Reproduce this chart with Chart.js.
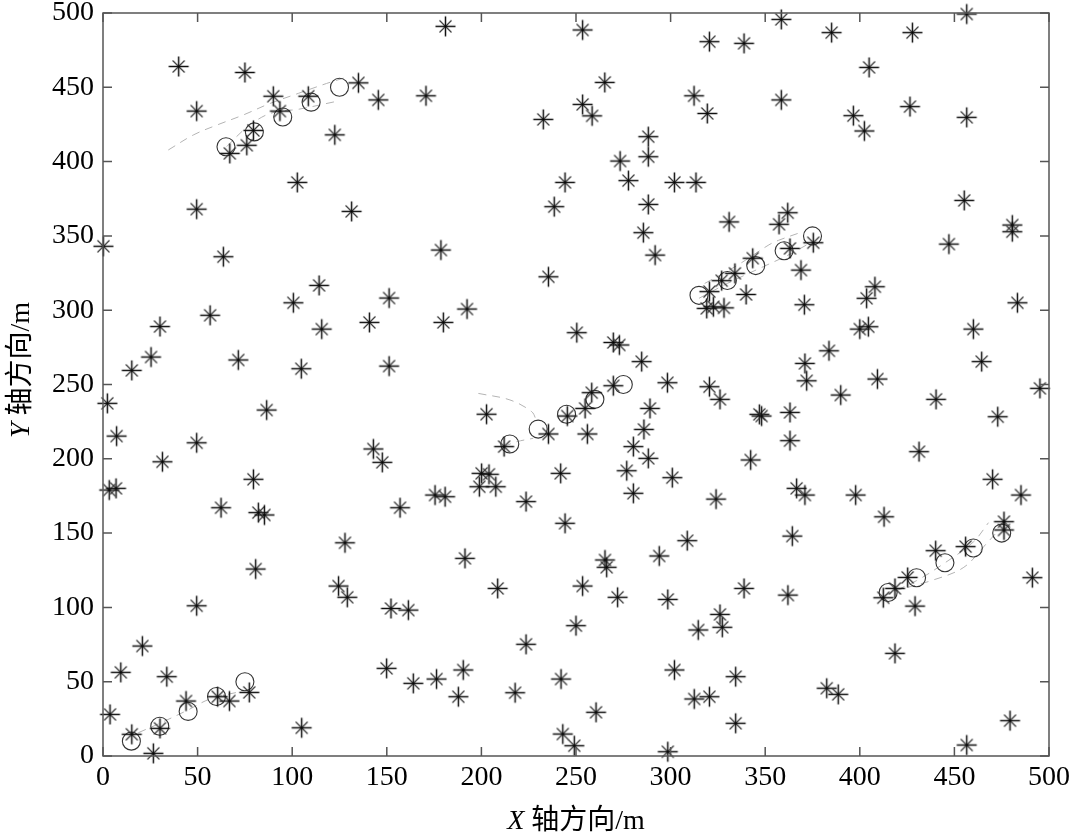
<!DOCTYPE html>
<html>
<head>
<meta charset="utf-8">
<script src="https://cdn.jsdelivr.net/npm/chart.js@4"></script>
<style>
  html, body { margin: 0; padding: 0; background: #fff; }
  #wrap { width: 1074px; height: 840px; position: relative; }
</style>
</head>
<body>
<div id="wrap"><canvas id="chart"></canvas></div>
<script>
// scattered measurements (asterisks)
const starX = [40, 75, 49.5, 90, 108.5, 93.5, 79.5, 76, 67, 122.5, 102.7, 49.5, 0.2, 63.6, 114.2, 56.6, 100.6, 30.1, 115.6, 25.4,
  15.2, 71.5, 104.8, 181, 135, 145.5, 170.7, 232.7, 244.2, 238.5, 131.4, 178.6, 235.4, 151.2, 140.8, 179.9, 192.4, 151.2, 358.5, 253.5,
  320.5, 338.8, 265.2, 312.4, 358.5, 253.5, 258.5, 319.4, 288.2, 288.2, 273.3, 277.7, 302, 313.4, 288.2, 285.6, 291.8, 330.9, 357.3, 361.9,
  363.1, 343.4, 368.9, 334, 327, 320.5, 339.9, 370.7, 319.1, 322.6, 328.2, 250.4, 269.7, 272.9, 284.7, 269.7, 298.3, 320.5, 371, 371.9,
  258.3, 456.5, 385.1, 427.8, 404.9, 396.6, 402.4, 426.5, 456.5, 455.2, 480.6, 480.6, 447.1, 375.4, 408, 403.6, 400, 404.5, 483.3, 460,
  383.7, 464.4, 409.3, 495.2, 2.3, 86.5, 7.2, 49.5, 31.4, 79.5, 3.3, 6.9, 62.4, 82.1, 85.3, 80.7, 49.5, 20.8, 9.4, 33.7,
  43.9, 66.8, 77.3, 60.6, 30.1, 15.2, 3.7, 26.6, 105, 124.5, 202.7, 212, 235.4, 245.4, 142.9, 147.6, 200.1, 204, 198.9, 207.6,
  241.9, 244.2, 175.5, 180.8, 157, 223.6, 127.9, 191.3, 129.1, 208.6, 152.2, 161.4, 223.6, 149.9, 190.4, 164, 176.3, 187.8, 217.8, 242.1,
  243, 254.8, 256, 326.1, 289.1, 285.9, 280.3, 288.2, 276.8, 280.3, 300.9, 324, 346.9, 348.1, 363.1, 363.1, 342.3, 366.6, 371, 364.3,
  308.8, 294, 265.3, 266.2, 253.5, 272, 298.5, 338.8, 362, 250, 326.1, 327.3, 314.6, 302, 334.4, 312.5, 320.5, 260.6, 334.4, 249.1,
  298.5, 389.9, 440.3, 472.9, 431.3, 470.2, 485.2, 397.8, 412.8, 476.2, 476.2, 455.9, 440.1, 425.3, 418.6, 412.4, 429.2, 491.2, 418.6, 382.5,
  388.6, 479.4, 456.5];
const starY = [464, 460, 434, 444, 444, 434, 421, 411, 405.5, 418, 386, 368, 343, 336, 316.7, 296.6, 305, 289, 287.3, 268.5,
  259.5, 266.5, 260.6, 491, 453, 441.5, 444.3, 428.4, 386, 369.7, 366.5, 340.5, 322.5, 308.2, 291.8, 291.8, 300.8, 262.4, 495.7, 488.6,
  480.7, 479.6, 453.3, 444.3, 441.5, 438.5, 430.8, 432.4, 416.8, 403.3, 400.4, 387.2, 386, 386, 371.2, 352.2, 337.1, 359.4, 357.8, 365.6,
  341.6, 335, 327, 324.8, 319.9, 312.5, 310.6, 303.7, 301.2, 302.3, 301.6, 284.9, 278.3, 276.6, 265.4, 249.2, 251.2, 248.5, 264.2, 252.5,
  244.5, 499.3, 486.8, 486.8, 463.4, 430.9, 420.6, 437, 429.8, 373.9, 357.3, 352.8, 344.5, 345.4, 315.8, 308, 287.3, 288.9, 305, 287.3,
  272.7, 265.4, 253.7, 247.4, 237.3, 232.8, 215.3, 210.8, 198, 186.2, 179, 180.1, 167.1, 163.8, 162.2, 125.8, 101.1, 74, 56.3, 53.4,
  37, 37, 42.8, 39.9, 18.6, 14.6, 28, 1.8, 19, 114.4, 230, 208.2, 216.7, 228.8, 206.6, 197.6, 190.2, 189.6, 181.2, 181.2,
  190.2, 156.6, 175.6, 174.5, 167.1, 171.2, 143.5, 133, 106.8, 112.8, 99.3, 98.2, 75.2, 59, 57.9, 48.9, 51.8, 39.9, 42.6, 51.8,
  14.8, 233.9, 216.7, 240, 233.9, 219.8, 208.2, 200.3, 192, 176.8, 187.3, 172.9, 229.9, 228.8, 231.2, 212.2, 199.2, 180.1, 175.6, 148,
  144.9, 134.6, 131.9, 127, 114.4, 106.8, 105.4, 112.8, 108.3, 87.7, 95.3, 86.6, 84.8, 57.9, 53.4, 38.4, 39.9, 29.4, 22, 6.9,
  2.9, 242.9, 240, 228.3, 204.8, 186.2, 175.6, 175.6, 161, 157.7, 152.1, 140.9, 138.2, 120.2, 112.8, 106.5, 100.9, 120, 69.1, 45.6,
  41.5, 23.8, 7.4];

// target tracks (circles)
const circleX = [65, 80, 95, 110, 125, 315, 330, 345, 360, 375, 15, 30, 45, 60, 75, 215, 230, 245, 260, 275, 415, 430, 445, 460, 475];
const circleY = [410, 420, 430, 440, 450, 310, 320, 330, 340, 350, 10, 20, 30, 40, 50, 210, 220, 230, 240, 250, 110, 120, 130, 140, 150];

// faint dashed track estimates
const guide1aX = [34.5, 47.7, 60, 74.2, 88, 103.2, 118.2, 128];
const guide1aY = [407.8, 417.9, 424.5, 431.4, 439, 445.9, 452.6, 456.5];
const guide1bX = [65.4, 76, 88.3, 104.1, 122.2];
const guide1bY = [410.1, 423, 432.4, 435.4, 440.2];
const guide2aX = [318, 335, 352, 357, 368];
const guide2aY = [318, 330, 344, 347, 352];
const guide2bX = [315, 330, 349, 362, 372];
const guide2bY = [308, 318, 329.3, 337, 344];
const guide3X = [18.7, 30, 45, 56.6, 72.4];
const guide3Y = [15.7, 22, 31, 38.4, 43.3];
const guide4aX = [198.4, 215.1, 226.6, 229];
const guide4aY = [244, 239.6, 231.7, 226];
const guide4bX = [211.6, 218.7, 227.4];
const guide4bY = [208.1, 211.5, 213.8];
const guide5aX = [413, 430, 445, 460, 468];
const guide5aY = [108, 118, 130, 144, 157];
const guide5bX = [418, 438.7, 455, 467, 472];
const guide5bY = [111, 118.4, 127, 143, 150];

const tickValues = [0, 50, 100, 150, 200, 250, 300, 350, 400, 450, 500];

const pts = (xs, ys) => xs.map((x, i) => ({ x: x, y: ys[i] }));

// MATLAB-like asterisk marker
function makeStar() {
  const c = document.createElement('canvas');
  c.width = 23; c.height = 23;
  const g = c.getContext('2d');
  g.strokeStyle = '#111';
  g.lineWidth = 1.5;
  g.beginPath();
  g.moveTo(11.5, 1.5); g.lineTo(11.5, 21.5);
  g.moveTo(1.5, 11.5); g.lineTo(21.5, 11.5);
  g.stroke();
  g.strokeStyle = '#333';
  g.lineWidth = 1.2;
  g.beginPath();
  g.moveTo(5.5, 5.5); g.lineTo(17.5, 17.5);
  g.moveTo(17.5, 5.5); g.lineTo(5.5, 17.5);
  g.stroke();
  g.fillStyle = '#000';
  g.fillRect(10.5, 10.5, 2, 2);
  return c;
}
const starImg = makeStar();

const guides = [
  [guide1aX, guide1aY], [guide1bX, guide1bY], [guide2aX, guide2aY], [guide2bX, guide2bY],
  [guide3X, guide3Y], [guide4aX, guide4aY], [guide4bX, guide4bY], [guide5aX, guide5aY], [guide5bX, guide5bY]
];

const datasets = guides.map(g => ({
  data: pts(g[0], g[1]),
  showLine: true,
  borderColor: '#b4b4b4',
  borderWidth: 1,
  borderDash: [8, 6],
  pointRadius: 0,
  tension: 0.35,
  order: 3
}));

datasets.push({
  data: pts(circleX, circleY),
  pointStyle: 'circle',
  pointRadius: 9,
  borderColor: '#333',
  borderWidth: 1.1,
  backgroundColor: 'rgba(0,0,0,0)',
  showLine: false,
  clip: false,
  order: 2
});

datasets.push({
  data: pts(starX, starY),
  pointStyle: starImg,
  pointRadius: 10,
  showLine: false,
  clip: false,
  order: 1
});

// box frame with inward ticks, plus axis titles
const frame = {
  id: 'frame',
  afterDraw(chart) {
    const ctx = chart.ctx;
    const a = chart.chartArea;
    const xs = chart.scales.x, ys = chart.scales.y;
    const len = 9;
    ctx.save();
    ctx.strokeStyle = '#555';
    ctx.lineWidth = 1.5;
    ctx.strokeRect(a.left, a.top, a.right - a.left, a.bottom - a.top);
    ctx.beginPath();
    tickValues.forEach(v => {
      const px = xs.getPixelForValue(v);
      ctx.moveTo(px, a.bottom); ctx.lineTo(px, a.bottom - len);
      ctx.moveTo(px, a.top); ctx.lineTo(px, a.top + len);
      const py = ys.getPixelForValue(v);
      ctx.moveTo(a.left, py); ctx.lineTo(a.left + len, py);
      ctx.moveTo(a.right, py); ctx.lineTo(a.right - len, py);
    });
    ctx.stroke();

    // axis titles
    ctx.fillStyle = '#000';
    ctx.textBaseline = 'middle';
    const italic = 'italic 28px "Liberation Serif"';
    const plain = '28px "Liberation Serif", "Noto Sans CJK SC"';
    const drawTitle = (letter, rest) => {
      ctx.font = italic;
      const w1 = ctx.measureText(letter + ' ').width;
      ctx.font = plain;
      const w2 = ctx.measureText(rest).width;
      const start = -(w1 + w2) / 2;
      ctx.font = italic;
      ctx.textAlign = 'left';
      ctx.fillText(letter, start, 0);
      ctx.font = plain;
      ctx.fillText(rest, start + w1, 0);
    };
    ctx.save();
    ctx.translate((a.left + a.right) / 2, 822);
    drawTitle('X', '轴方向/m');
    ctx.restore();
    ctx.save();
    ctx.translate(22, 370);
    ctx.rotate(-Math.PI / 2);
    drawTitle('Y', '轴方向/m');
    ctx.restore();
    ctx.restore();
  }
};

const tickFont = { family: '"Liberation Serif", "Times New Roman", serif', size: 28 };

new Chart(document.getElementById('chart'), {
  type: 'scatter',
  data: { datasets: datasets },
  options: {
    responsive: true,
    maintainAspectRatio: false,
    animation: false,
    layout: { padding: { top: 13, right: 25, left: 0, bottom: 0 } },
    plugins: { legend: { display: false }, tooltip: { enabled: false } },
    scales: {
      x: {
        type: 'linear', min: 0, max: 500,
        afterBuildTicks: s => { s.ticks = tickValues.map(v => ({ value: v })); },
        afterFit: s => { s.height = 84; s.paddingLeft = 0; s.paddingRight = 0; },
        grid: { display: false, drawTicks: false },
        border: { display: false },
        ticks: { font: tickFont, color: '#000', padding: 5, maxRotation: 0 }
      },
      y: {
        type: 'linear', min: 0, max: 500,
        afterBuildTicks: s => { s.ticks = tickValues.map(v => ({ value: v })); },
        afterFit: s => { s.width = 103; s.paddingTop = 0; s.paddingBottom = 0; },
        grid: { display: false, drawTicks: false },
        border: { display: false },
        ticks: { font: tickFont, color: '#000', padding: 9 }
      }
    }
  },
  plugins: [frame]
});
</script>
</body>
</html>
